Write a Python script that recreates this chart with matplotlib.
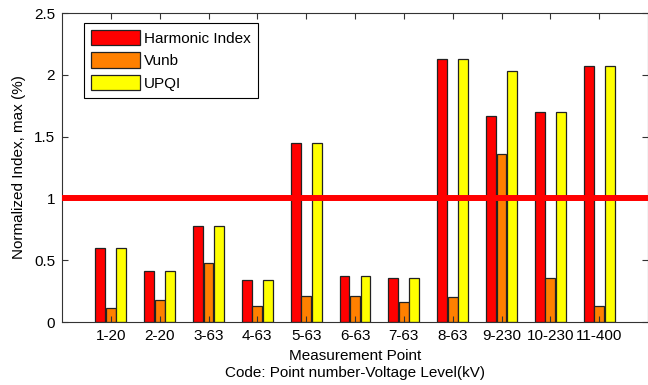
import matplotlib
matplotlib.use("Agg")
import matplotlib.pyplot as plt
import numpy as np

# measurement points (code: point number - voltage level kV)
points = ["1-20", "2-20", "3-63", "4-63", "5-63", "6-63",
          "7-63", "8-63", "9-230", "10-230", "11-400"]
harmonic = [0.60, 0.41, 0.78, 0.34, 1.45, 0.37, 0.36, 2.13, 1.67, 1.70, 2.07]
vunb = [0.11, 0.18, 0.48, 0.13, 0.21, 0.21, 0.16, 0.20, 1.36, 0.36, 0.13]
upqi = [0.60, 0.41, 0.78, 0.34, 1.45, 0.37, 0.36, 2.13, 2.03, 1.70, 2.07]
limit = 1.0

plt.rcParams['font.family'] = ['Liberation Sans', 'DejaVu Sans']
plt.rcParams['font.size'] = 11

fig = plt.figure(figsize=(6.48, 3.85), dpi=100)
ax = fig.add_axes([0.0957, 0.1636, 0.9043, 0.8024])

x = np.arange(1, len(points) + 1)
w = 0.2
off = 0.215
ax.bar(x - off, harmonic, w, color=(1, 0, 0), edgecolor='#222222', linewidth=0.9, label='Harmonic Index')
ax.bar(x, vunb, w, color=(1, 0.5, 0), edgecolor='#222222', linewidth=0.9, label='Vunb')
ax.bar(x + off, upqi, w, color=(1, 1, 0), edgecolor='#222222', linewidth=0.9, label='UPQI')

# limit line
ax.axhline(limit, color=(1, 0, 0), linewidth=4.3, zorder=5)

ax.set_xlim(0, 12)
ax.set_ylim(0, 2.5)
ax.set_xticks(x)
ax.set_xticklabels(points)
ax.set_yticks([0, 0.5, 1, 1.5, 2, 2.5])
ax.set_yticklabels(['0', '0.5', '1', '1.5', '2', '2.5'])
ax.tick_params(direction='in', top=True, right=True, length=4, width=0.8,
               colors='#333333', labelcolor='black', pad=5)
for s in ax.spines.values():
    s.set_color('#333333')
    s.set_linewidth(0.8)

ax.set_ylabel('Normalized Index, max (%)', labelpad=6)
ax.set_xlabel('Measurement Point\nCode: Point number-Voltage Level(kV)', linespacing=1.3, labelpad=4)

leg = ax.legend(loc='upper left', bbox_to_anchor=(0.0375, 0.968), borderaxespad=0,
                fancybox=False, edgecolor='black', framealpha=1,
                handlelength=3.2, handleheight=1.15, labelspacing=0.45,
                handletextpad=0.3, borderpad=0.45)
leg.get_frame().set_linewidth(0.8)

fig.savefig('out.png', dpi=100)
